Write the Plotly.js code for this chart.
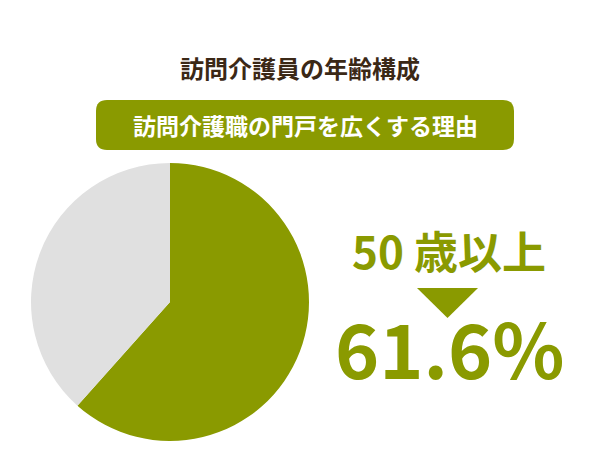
<!DOCTYPE html>
<html>
<head>
<meta charset="utf-8">
<script src="https://cdn.plot.ly/plotly-3.0.1.min.js"></script>
<style>html,body{margin:0;padding:0;background:#fff;}#chart{width:600px;height:450px;}</style>
</head>
<body>
<div id="chart"></div>
<script>
const labels = ["50歳以上", "50歳未満"];
const values = [61.6, 38.4];
const colors = ["#8a9a00", "#e0e0e0"];
const titleText = "訪問介護員の年齢構成";
const boxText = "訪問介護職の門戸を広くする理由";
const ageLabel = "50 歳以上";
const shareLabel = "61.6%";

const W = 600, H = 450;
const px = x => x / W;
const py = y => 1 - y / H;
const FONT = '"Noto Sans CJK JP", "Noto Sans", sans-serif';
const GREEN = "#8a9a00";

function roundedRect(x0, y0, x1, y1, r) {
  const X0 = px(x0), X1 = px(x1), Y0 = py(y0), Y1 = py(y1);
  const rx = r / W, ry = r / H;
  return `M ${X0 + rx} ${Y0} L ${X1 - rx} ${Y0} Q ${X1} ${Y0} ${X1} ${Y0 - ry} ` +
         `L ${X1} ${Y1 + ry} Q ${X1} ${Y1} ${X1 - rx} ${Y1} L ${X0 + rx} ${Y1} ` +
         `Q ${X0} ${Y1} ${X0} ${Y1 + ry} L ${X0} ${Y0 - ry} Q ${X0} ${Y0} ${X0 + rx} ${Y0} Z`;
}

const data = [{
  type: "pie",
  labels: labels,
  values: values,
  marker: { colors: colors, line: { width: 0 } },
  sort: false,
  direction: "clockwise",
  rotation: 0,
  textinfo: "none",
  hoverinfo: "label+percent",
  showlegend: false,
  domain: { x: [px(31), px(309)], y: [py(441), py(163)] }
}];

const layout = {
  width: W, height: H,
  margin: { l: 0, r: 0, t: 0, b: 0 },
  paper_bgcolor: "#ffffff",
  showlegend: false,
  shapes: [
    { type: "path", xref: "paper", yref: "paper", path: roundedRect(96, 100, 514, 150, 11),
      fillcolor: GREEN, line: { width: 0 } },
    { type: "path", xref: "paper", yref: "paper",
      path: `M ${px(417)} ${py(288)} L ${px(478)} ${py(288)} L ${px(447.5)} ${py(318)} Z`,
      fillcolor: GREEN, line: { width: 0 } }
  ],
  annotations: [
    { text: "<b>" + titleText + "</b>", xref: "paper", yref: "paper", x: px(300), y: py(68),
      xanchor: "center", yanchor: "middle", showarrow: false,
      font: { family: FONT, size: 24, color: "#3b2816" } },
    { text: "<b>" + boxText + "</b>", xref: "paper", yref: "paper", x: px(305), y: py(125),
      xanchor: "center", yanchor: "middle", showarrow: false,
      font: { family: FONT, size: 23, color: "#ffffff" } },
    { text: "<b>" + ageLabel + "</b>", xref: "paper", yref: "paper", x: px(449), y: py(250),
      xanchor: "center", yanchor: "middle", showarrow: false,
      font: { family: FONT, size: 44, color: GREEN } },
    { text: "<b>" + shareLabel + "</b>", xref: "paper", yref: "paper", x: px(449), y: py(346),
      xanchor: "center", yanchor: "middle", showarrow: false,
      font: { family: FONT, size: 75, color: GREEN } }
  ]
};

Plotly.newPlot("chart", data, layout, { displayModeBar: false, staticPlot: true });
</script>
</body>
</html>
